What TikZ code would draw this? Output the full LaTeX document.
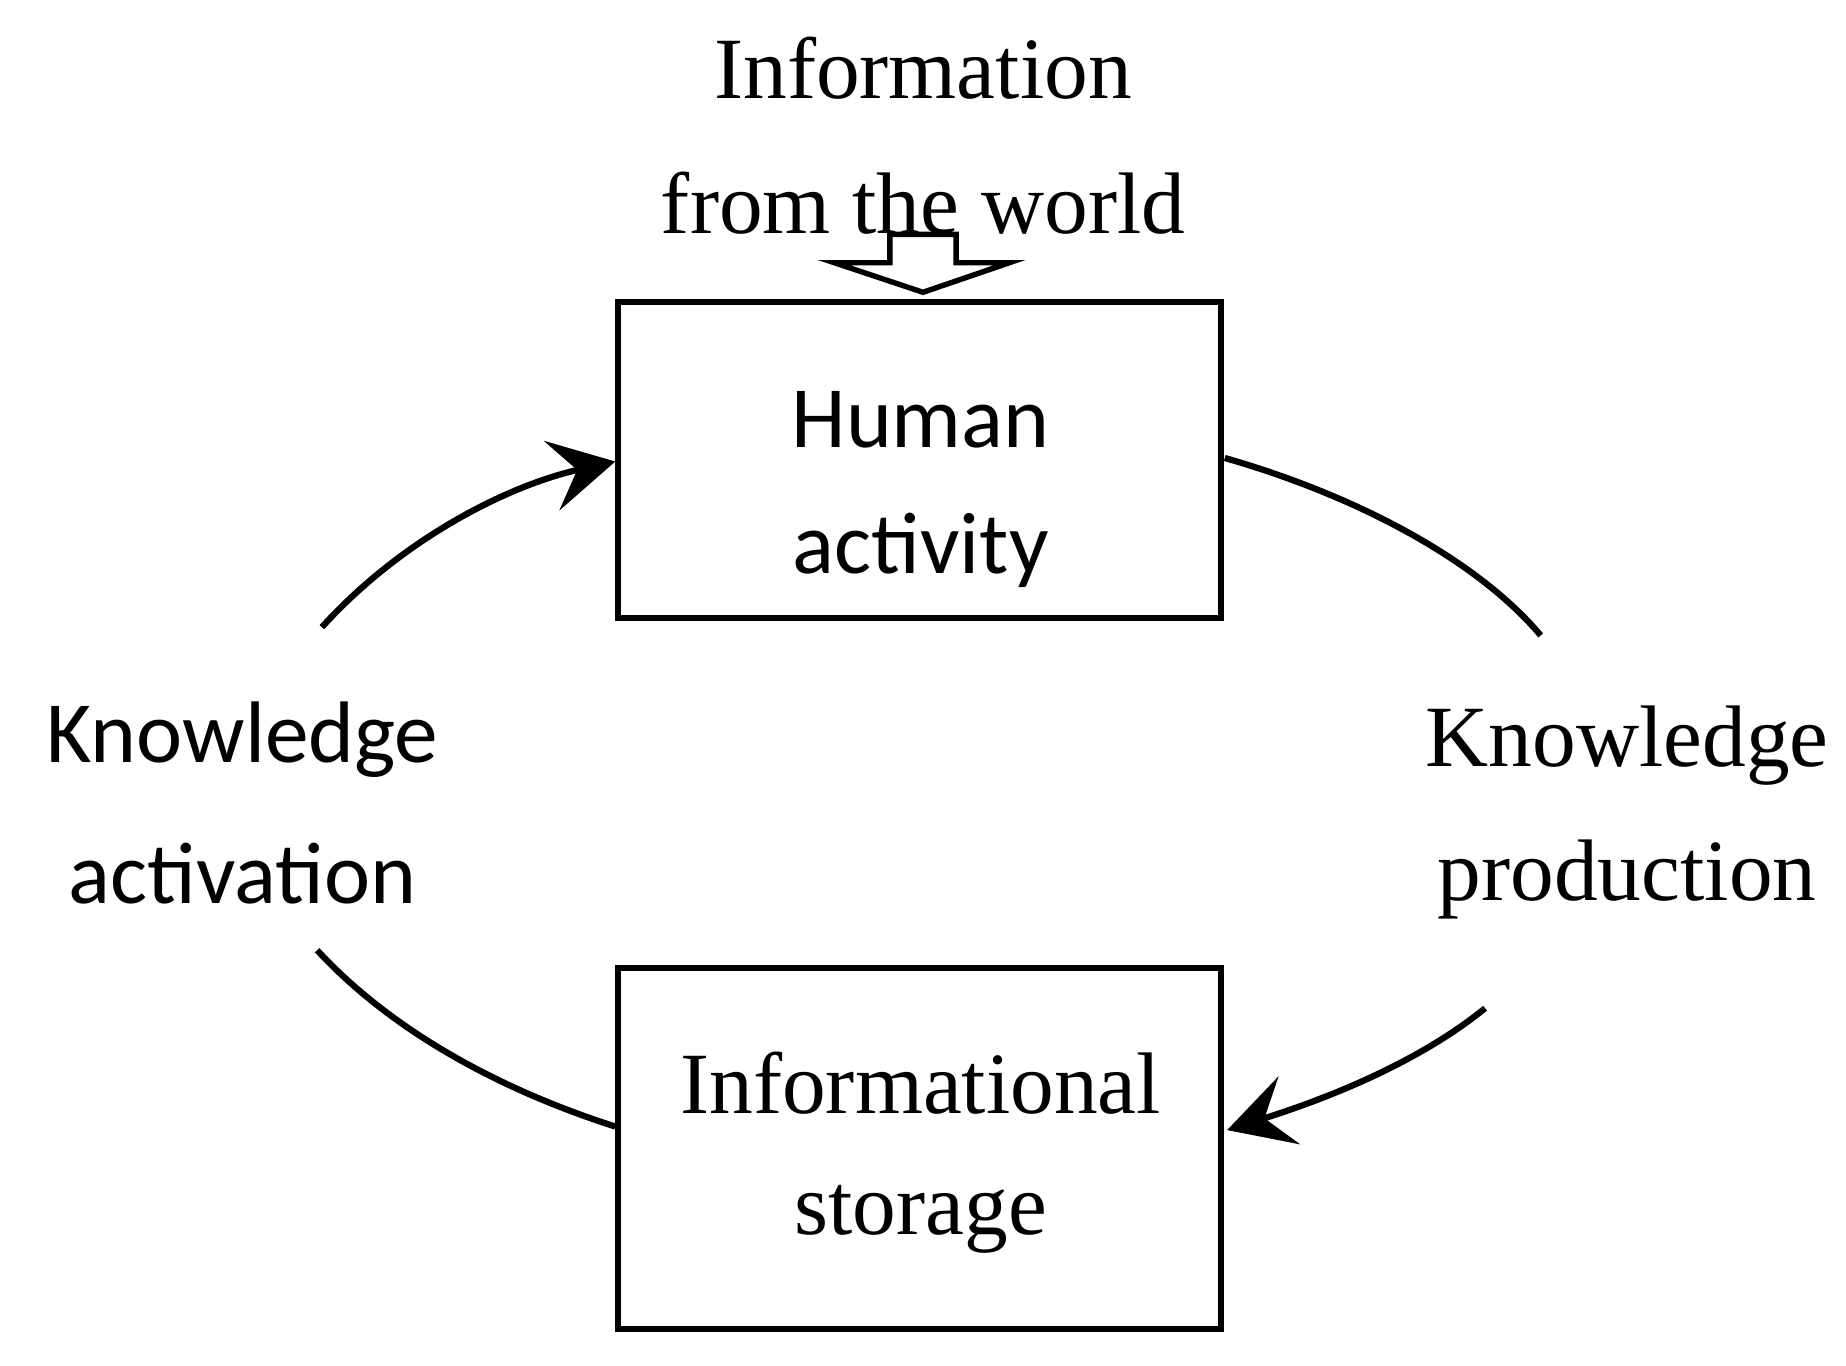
\documentclass[tikz,border=0pt]{standalone}
\usepackage{fontspec}
\setmainfont{Liberation Serif}
\newfontfamily\sansf{Carlito}
\usetikzlibrary{arrows.meta}
\begin{document}
\begin{tikzpicture}[x=0.01cm,y=-0.01cm,
  box/.style={draw,line width=1.5pt},
  arc/.style={line width=1.5pt},
  hd/.style={-{Stealth[length=0.55cm,width=0.6cm,inset=0.22cm]}},
  serif/.style={font=\fontsize{21}{25}\selectfont},
  sans/.style={font=\sansf\fontsize{21}{25}\selectfont}]
\useasboundingbox (0,0) rectangle (1560,1154);
\draw[box] (522,255) rectangle (1032,522);
\draw[box] (522,818) rectangle (1032,1123);
\node[serif] (i1) at (780,58) {Information};
\node[serif] (i2) at (780,172) {from the world};
\node[sans] (h1) at (778,355) {Human};
\node[sans] (h2) at (778,465) {activity};
\node[serif] (s1) at (778,915) {Informational};
\node[serif] (s2) at (778,1030) {storage};
\node[sans] (ka1) at (205,625) {Knowledge};
\node[sans] (ka2) at (205,738) {activation};
\node[serif] (kp1) at (1375,630) {Knowledge};
\node[serif] (kp2) at (1375,743) {production};
\draw[line width=1.3pt,fill=white] (752,198) -- (808,198) -- (808,222) -- (853,222) -- (780,247) -- (705,222) -- (752,222) -- cycle;
\draw[arc,hd] (272,530) .. controls (340,455) and (430,410) .. (520,390);
\draw[arc] (1035,387) .. controls (1150,420) and (1250,475) .. (1302,537);
\draw[arc,hd] (1255,852) .. controls (1190,905) and (1100,935) .. (1037,955);
\draw[arc] (268,803) .. controls (330,870) and (420,920) .. (520,952);
\end{tikzpicture}
\end{document}
